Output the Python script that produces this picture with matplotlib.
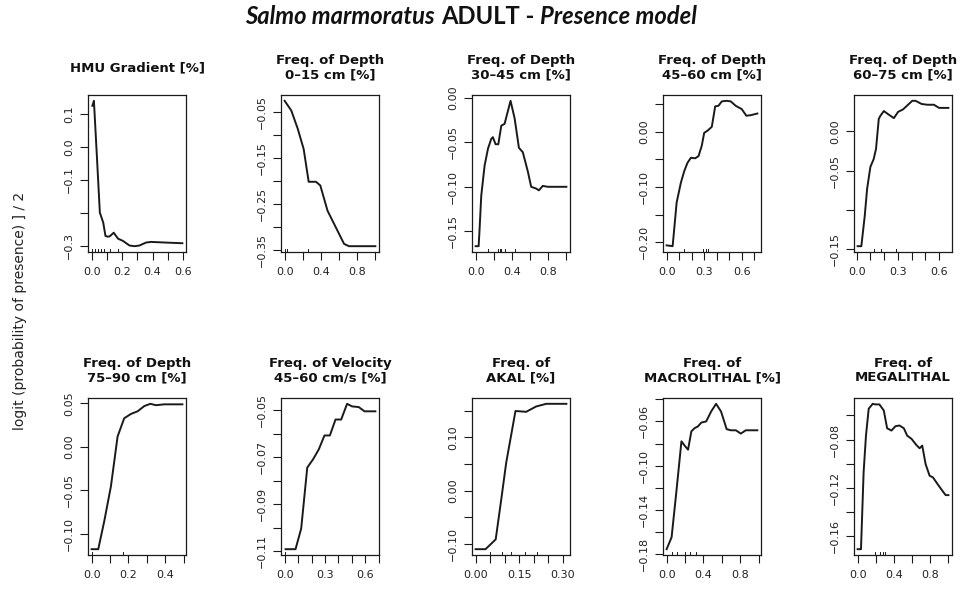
import matplotlib
matplotlib.use('Agg')
import matplotlib.pyplot as plt
from matplotlib.transforms import blended_transform_factory

# ---------------- data ----------------
titles = ["HMU Gradient [%]",
          "Freq. of Depth\n0–15 cm [%]",
          "Freq. of Depth\n30–45 cm [%]",
          "Freq. of Depth\n45–60 cm [%]",
          "Freq. of Depth\n60–75 cm [%]",
          "Freq. of Depth\n75–90 cm [%]",
          "Freq. of Velocity\n45–60 cm/s [%]",
          "Freq. of\nAKAL [%]",
          "Freq. of\nMACROLITHAL [%]",
          "Freq. of\nMEGALITHAL"]

hmu_x = [0.005, 0.015, 0.032, 0.054, 0.076, 0.091, 0.105, 0.119, 0.145, 0.173, 0.206, 0.249,
         0.282, 0.314, 0.357, 0.39, 0.487, 0.596]
hmu_y = [0.125, 0.14, -0.007, -0.2, -0.23, -0.271, -0.273, -0.272, -0.261, -0.279, -0.286, -0.3,
         -0.302, -0.3, -0.291, -0.289, -0.291, -0.293]

d0_x = [0.0, 0.073, 0.145, 0.21, 0.265, 0.345, 0.393, 0.473, 0.655, 0.709, 1.0]
d0_y = [-0.025, -0.046, -0.086, -0.13, -0.201, -0.201, -0.209, -0.264, -0.336, -0.341, -0.341]

d30_x = [0.0, 0.033, 0.044, 0.062, 0.099, 0.136, 0.172, 0.19, 0.22, 0.25, 0.283, 0.319, 0.385,
         0.43, 0.477, 0.52, 0.576, 0.612, 0.667, 0.697, 0.74, 0.796, 1.0]
d30_y = [-0.167, -0.167, -0.147, -0.11, -0.076, -0.057, -0.046, -0.044, -0.052, -0.052, -0.031,
         -0.029, -0.003, -0.023, -0.056, -0.061, -0.083, -0.1, -0.102, -0.104, -0.099, -0.1, -0.1]

d45_x = [0.0, 0.048, 0.08, 0.114, 0.141, 0.167, 0.194, 0.228, 0.255, 0.281, 0.3, 0.327, 0.361,
         0.388, 0.414, 0.441, 0.478, 0.512, 0.552, 0.6, 0.637, 0.672, 0.725]
d45_y = [-0.2055, -0.207, -0.128, -0.092, -0.071, -0.056, -0.047, -0.048, -0.044, -0.025, -0.002,
         0.002, 0.009, 0.046, 0.047, 0.055, 0.056, 0.055, 0.047, 0.041, 0.029, 0.03, 0.033]

d60_x = [0.007, 0.034, 0.059, 0.076, 0.1, 0.124, 0.141, 0.161, 0.173, 0.198, 0.229, 0.271, 0.302,
         0.337, 0.368, 0.405, 0.429, 0.473, 0.515, 0.563, 0.6, 0.668]
d60_y = [-0.1458, -0.1458, -0.107, -0.073, -0.045, -0.035, -0.022, 0.016, 0.02, 0.026, 0.022, 0.017,
         0.025, 0.028, 0.033, 0.039, 0.039, 0.035, 0.034, 0.034, 0.03, 0.03]

d75_x = [0.0, 0.036, 0.069, 0.105, 0.141, 0.177, 0.214, 0.25, 0.286, 0.319, 0.35, 0.394, 0.493]
d75_y = [-0.1176, -0.1176, -0.085, -0.045, 0.012, 0.033, 0.038, 0.041, 0.047, 0.0496, 0.048, 0.049, 0.049]

vel_x = [0.007, 0.081, 0.123, 0.168, 0.212, 0.254, 0.296, 0.336, 0.378, 0.42, 0.464, 0.501, 0.551,
         0.593, 0.674]
vel_y = [-0.1092, -0.1092, -0.1004, -0.0744, -0.0708, -0.0666, -0.0607, -0.0607, -0.0539, -0.0539,
         -0.0472, -0.0483, -0.0486, -0.0504, -0.0504]

akal_x = [0.0, 0.034, 0.069, 0.088, 0.105, 0.137, 0.174, 0.208, 0.243, 0.312]
akal_y = [-0.110, -0.110, -0.0916, -0.017, 0.052, 0.1495, 0.148, 0.158, 0.163, 0.163]

macro_x = [0.0, 0.054, 0.108, 0.161, 0.197, 0.233, 0.269, 0.305, 0.341, 0.377, 0.43, 0.484, 0.538,
           0.592, 0.653, 0.7, 0.753, 0.807, 0.861, 0.987]
macro_y = [-0.1758, -0.165, -0.122, -0.078, -0.082, -0.0856, -0.069, -0.066, -0.0645, -0.061, -0.06,
           -0.051, -0.044, -0.051, -0.067, -0.068, -0.068, -0.071, -0.068, -0.068]

mega_x = [0.0, 0.037, 0.066, 0.092, 0.122, 0.166, 0.196, 0.24, 0.288, 0.325, 0.373, 0.417, 0.461,
          0.509, 0.546, 0.594, 0.646, 0.683, 0.712, 0.749, 0.793, 0.83, 0.889, 0.934, 0.97, 1.0]
mega_y = [-0.171, -0.171, -0.107, -0.0767, -0.0544, -0.0503, -0.0508, -0.0508, -0.0558, -0.0706,
          -0.0725, -0.0689, -0.0683, -0.0706, -0.0767, -0.0794, -0.0844, -0.0872, -0.085, -0.1003,
          -0.11, -0.1114, -0.1178, -0.1225, -0.1261, -0.1261]

# rug (decile) marks
rugs = [[0.0, 0.02, 0.04, 0.06, 0.08, 0.12, 0.17],
        [0.0, 0.03, 0.26],
        [0.136, 0.246, 0.265, 0.283, 0.32, 0.43],
        [0.14, 0.287, 0.313, 0.334],
        [0.124, 0.18, 0.283],
        [0.0, 0.17],
        [0.0],
        [0.05, 0.09, 0.12, 0.17, 0.21],
        [0.054, 0.108, 0.197, 0.251, 0.323],
        [0.194, 0.25, 0.275, 0.305]]

# axis ticks and labels (R style)
xticks = [[0, .1, .2, .3, .4, .5, .6],
          [0, .2, .4, .6, .8, 1.0],
          [0, .2, .4, .6, .8, 1.0],
          [0, .1, .2, .3, .4, .5, .6, .7],
          [0, .1, .2, .3, .4, .5, .6],
          [0, .1, .2, .3, .4, .5],
          [0, .1, .2, .3, .4, .5, .6, .7],
          [0, .05, .10, .15, .20, .25, .30],
          [0, .2, .4, .6, .8, 1.0],
          [0, .2, .4, .6, .8, 1.0]]
xlabels = [["0.0", "", "0.2", "", "0.4", "", "0.6"],
           ["0.0", "", "0.4", "", "0.8", ""],
           ["0.0", "", "0.4", "", "0.8", ""],
           ["0.0", "", "", "0.3", "", "", "0.6", ""],
           ["0.0", "", "", "0.3", "", "", "0.6"],
           ["0.0", "", "0.2", "", "0.4", ""],
           ["0.0", "", "", "0.3", "", "", "0.6", ""],
           ["0.00", "", "", "0.15", "", "", "0.30"],
           ["0.0", "", "0.4", "", "0.8", ""],
           ["0.0", "", "0.4", "", "0.8", ""]]
yticks = [[0.1, 0.0, -0.1, -0.2, -0.3],
          [-0.05, -0.10, -0.15, -0.20, -0.25, -0.30, -0.35],
          [0.0, -0.05, -0.10, -0.15],
          [0.05, 0.0, -0.05, -0.10, -0.15, -0.20],
          [0.0, -0.05, -0.10, -0.15],
          [0.05, 0.0, -0.05, -0.10],
          [-0.05, -0.06, -0.07, -0.08, -0.09, -0.10, -0.11],
          [0.15, 0.10, 0.05, 0.0, -0.05, -0.10],
          [-0.04, -0.06, -0.08, -0.10, -0.12, -0.14, -0.16, -0.18],
          [-0.06, -0.08, -0.10, -0.12, -0.14, -0.16]]
ylabels = [["0.1", "0.0", "−0.1", "", "−0.3"],
           ["−0.05", "", "−0.15", "", "−0.25", "", "−0.35"],
           ["0.00", "−0.05", "−0.10", "−0.15"],
           ["", "0.00", "", "−0.10", "", "−0.20"],
           ["0.00", "−0.05", "", "−0.15"],
           ["0.05", "0.00", "−0.05", "−0.10"],
           ["−0.05", "", "−0.07", "", "−0.09", "", "−0.11"],
           ["", "0.10", "", "0.00", "", "−0.10"],
           ["", "−0.06", "", "−0.10", "", "−0.14", "", "−0.18"],
           ["", "−0.08", "", "−0.12", "", "−0.16"]]

series = [(hmu_x, hmu_y), (d0_x, d0_y), (d30_x, d30_y), (d45_x, d45_y), (d60_x, d60_y),
          (d75_x, d75_y), (vel_x, vel_y), (akal_x, akal_y), (macro_x, macro_y), (mega_x, mega_y)]

# ---------------- figure ----------------
W, H = 961, 589
fig = plt.figure(figsize=(W / 100, H / 100), dpi=100)
fig.patch.set_facecolor('white')

col_left = [88, 281, 472, 663, 854]
row_top = [95, 398]
aw, ah = 98, 157

ink = '#1a1a1a'
for i, (xs, ys) in enumerate(series):
    r, c = divmod(i, 5)
    left = col_left[c] / W
    bottom = 1 - (row_top[r] + ah) / H
    ax = fig.add_axes([left, bottom, aw / W, ah / H])
    ax.plot(xs, ys, color=ink, lw=1.4, solid_joinstyle='round')
    ax.margins(x=0.04, y=0.04)
    ax.set_xticks(xticks[i])
    ax.set_xticklabels(xlabels[i])
    ax.set_yticks(yticks[i])
    ax.set_yticklabels(ylabels[i], rotation=90, va='center')
    ax.tick_params(direction='out', length=5.5, width=0.8, color=ink,
                   labelsize=8, labelcolor='#222222', pad=5)
    ax.tick_params(axis='y', pad=4.5)
    for s in ax.spines.values():
        s.set_linewidth(0.9)
        s.set_color(ink)
    tr = blended_transform_factory(ax.transData, ax.transAxes)
    for rx in rugs[i]:
        ax.plot([rx, rx], [0, 0.02], transform=tr, color=ink, lw=0.7, clip_on=False)
    ax.text(0.5, 1.175, titles[i], transform=ax.transAxes, ha='center', va='center',
            multialignment='center', fontsize=9.5, fontweight='bold', linespacing=1.1,
            family='DejaVu Sans', color='#111111')

# y label
fig.text(20 / W, 1 - 311 / H, "logit (probability of presence) ] / 2", rotation=90,
         ha='center', va='center', fontsize=10, family='DejaVu Sans', color='#222222')

# main title with mixed styles, fitted to the reference width
fig.canvas.draw()
rend = fig.canvas.get_renderer()
parts = [("Salmo marmoratus", 'italic'), ("ADULT -", 'normal'), ("Presence model", 'italic')]
tfam = 'Lato'
target_w = 452.0


def measure(fs):
    ws = []
    for s, st in parts:
        t = fig.text(0, 0, s, fontsize=fs, fontweight='bold', style=st, family=tfam)
        ws.append(t.get_window_extent(rend).width)
        t.remove()
    a = fig.text(0, 0, "a a", fontsize=fs, fontweight='bold', family=tfam)
    b = fig.text(0, 0, "aa", fontsize=fs, fontweight='bold', family=tfam)
    sp = a.get_window_extent(rend).width - b.get_window_extent(rend).width
    a.remove(); b.remove()
    return ws, sp


ws, sp = measure(14)
fs = 14 * target_w / (sum(ws) + 2 * sp)
ws, sp = measure(fs)
total = sum(ws) + 2 * sp
ty = 1 - 17 / H
x = 471 - total / 2
for (s, st), w in zip(parts, ws):
    fig.text(x / W, ty, s, fontsize=fs, fontweight='bold', style=st, family=tfam,
             va='center', ha='left', color='#111111')
    x += w + sp

fig.savefig('out.png', dpi=100, facecolor='white')
